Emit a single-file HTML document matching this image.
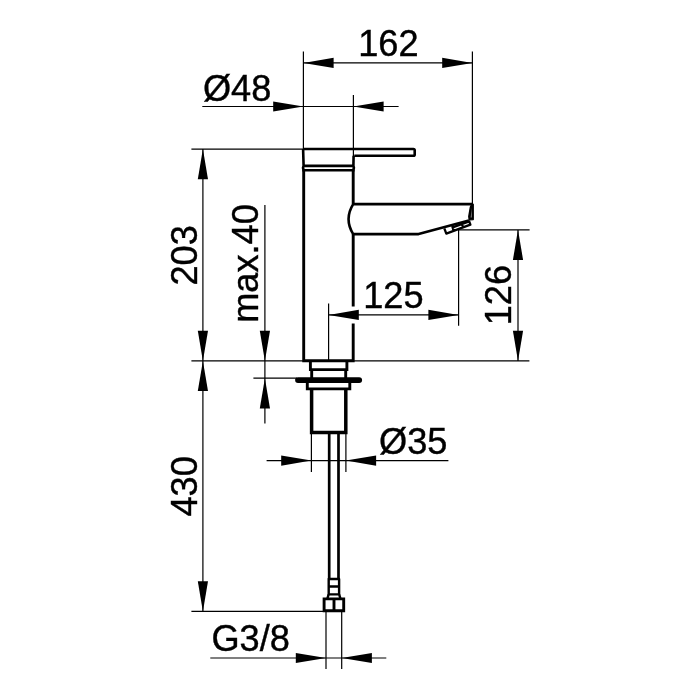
<!DOCTYPE html>
<html lang="en">
<head>
<meta charset="utf-8">
<title>Dimension drawing</title>
<style>
html,body{margin:0;padding:0;background:#fff;}
body{width:700px;height:700px;overflow:hidden;}
svg{display:block;will-change:transform;}
text{font-family:"Liberation Sans",Arial,Helvetica,sans-serif;font-size:36.2px;fill:#000;stroke:#000;stroke-width:0.4px;}
</style>
</head>
<body>
<svg width="700" height="700" viewBox="0 0 700 700">
<rect width="700" height="700" fill="#fff"/>
<path d="M303.4 51.4L303.4 149 M472.4 51.4L472.4 203.5 M303.4 62.9L472.4 62.9 M353.4 94.9L353.4 156 M202.3 106.5L398.6 106.5 M191.4 149.1L303.4 149.1 M202.9 149L202.9 611.4 M191.4 360.9L529.4 360.9 M264.9 204.9L264.9 423.6 M253.4 378.2L297 378.2 M328.6 303.4L328.6 361 M328.6 314.9L458.6 314.9 M458.6 229.8L458.6 325.7 M459 229.8L529.6 229.8 M518 229.8L518 361 M311.4 433L311.4 471.9 M345.9 433L345.9 471.9 M266.6 460.6L448.4 460.6 M191.4 611.3L324 611.3 M326 611L326 669.1 M341.7 611L341.7 669.1 M210.3 658.0L386.3 658.0" fill="none" stroke="#000" stroke-width="1.2"/>
<g fill="#000">
<polygon points="303.40,62.90 333.60,57.80 333.60,68.00"/>
<polygon points="472.40,62.90 442.20,68.00 442.20,57.80"/>
<polygon points="303.40,106.50 273.20,111.60 273.20,101.40"/>
<polygon points="353.40,106.50 383.60,101.40 383.60,111.60"/>
<polygon points="202.90,149.10 208.00,179.30 197.80,179.30"/>
<polygon points="202.90,360.90 197.80,330.70 208.00,330.70"/>
<polygon points="202.90,360.90 208.00,391.10 197.80,391.10"/>
<polygon points="202.90,611.40 197.80,581.20 208.00,581.20"/>
<polygon points="264.90,360.90 259.80,330.70 270.00,330.70"/>
<polygon points="264.90,378.20 270.00,408.40 259.80,408.40"/>
<polygon points="328.60,314.90 358.80,309.80 358.80,320.00"/>
<polygon points="458.60,314.90 428.40,320.00 428.40,309.80"/>
<polygon points="518.00,229.80 523.10,260.00 512.90,260.00"/>
<polygon points="518.00,360.90 512.90,330.70 523.10,330.70"/>
<polygon points="311.40,460.60 281.20,465.70 281.20,455.50"/>
<polygon points="345.90,460.60 376.10,455.50 376.10,465.70"/>
<polygon points="326.00,658.00 295.80,663.10 295.80,652.90"/>
<polygon points="341.70,658.00 371.90,652.90 371.90,663.10"/>
</g>
<path d="M303.7 169.2 L303.7 360.8 L353.2 360.8 L353.2 323.6 M353.2 306.6 L353.2 234 M353.2 204 L353.2 169.2 M310.4 361 L310.4 369.6 L346.9 369.6 L346.9 361 M311.7 369.6 L311.7 378 M345.7 369.6 L345.7 378 M307.3 383 L307.3 388.9 L349.8 388.9 L349.8 383 M324.1 598.9 L343.7 598.9 L343.7 610.8 L324.1 610.8 Z M334 598.9 L334 610.8" fill="none" stroke="#000" stroke-width="2.9" stroke-linejoin="miter"/>
<path d="M472.2 203.4 L473.2 204.4 L473.2 219.6 L469.2 219.9 L468.8 216.4 L470.4 207 Z" fill="#000" stroke="#000" stroke-width="1.4" stroke-linejoin="round"/>
<path d="M471.9 208 L471.9 217.6 L470.6 217.6 Z" fill="#777"/>
<path d="M298 380.1 L359.2 380.1" fill="none" stroke="#000" stroke-width="5.8" stroke-linecap="round"/>
<path d="M329.2 433 L329.2 579 M338.5 433 L338.5 579" fill="none" stroke="#000" stroke-width="2.7" stroke-linejoin="round"/>
<path d="M472.4 204.1 L353.2 204.1 Q343.9 219.1 353.2 234.1 L418.6 234.1 L468.9 220.6" fill="none" stroke="#000" stroke-width="2.6" stroke-linejoin="round"/>
<path d="M311.6 388.9 L311.6 432.4 L345.8 432.4 L345.8 388.9" fill="none" stroke="#000" stroke-width="3.5" stroke-linejoin="miter"/>
<path d="M328.7 579.0 L339.1 579.0 L339.1 594.4 L328.7 594.4 Z M328.7 586.5 L339.1 586.5 M328.6 594.4 L327.4 598.6 M339.2 594.4 L340.4 598.6" fill="none" stroke="#000" stroke-width="2.4" stroke-linejoin="round"/>
<path d="M444.3 228.3 L446.3 233.6 L470.4 224.6 L468.9 220.6 M452.2 226 L453.6 230.6 M461.6 223 L463 227.3 M452.6 227.3 L469.2 221.5" fill="none" stroke="#000" stroke-width="2.3" stroke-linejoin="round"/>
<path d="M302.3 170.2 L354.6 170.2 M303.1 149 L303.6 165.9 L353.4 165.9 L353.6 155.7 M303.6 165.9 L303 167.8 L303.5 169.6 M353.4 165.9 L353.9 167.8 L353.4 169.6 M303.1 149 L413.4 149 Q414.7 149 414.7 150.3 L414.7 154.4 Q414.7 155.7 413.4 155.7 L354.3 155.7" fill="none" stroke="#000" stroke-width="2.6" stroke-linejoin="round"/>

<text x="388.4" y="56.2" text-anchor="middle">162</text>
<text x="237.1" y="100.6" text-anchor="middle">Ø48</text>
<text x="393.4" y="307.6" text-anchor="middle">125</text>
<text x="413.3" y="453.8" text-anchor="middle">Ø35</text>
<text x="250.7" y="651" text-anchor="middle">G3/8</text>
<text transform="translate(196.6,255.4) rotate(-90)" text-anchor="middle">203</text>
<text transform="translate(196.6,486.4) rotate(-90)" text-anchor="middle">430</text>
<text transform="translate(258.3,263.5) rotate(-90)" text-anchor="middle">max.40</text>
<text transform="translate(511.4,295.1) rotate(-90)" text-anchor="middle">126</text>

</svg>
</body>
</html>
